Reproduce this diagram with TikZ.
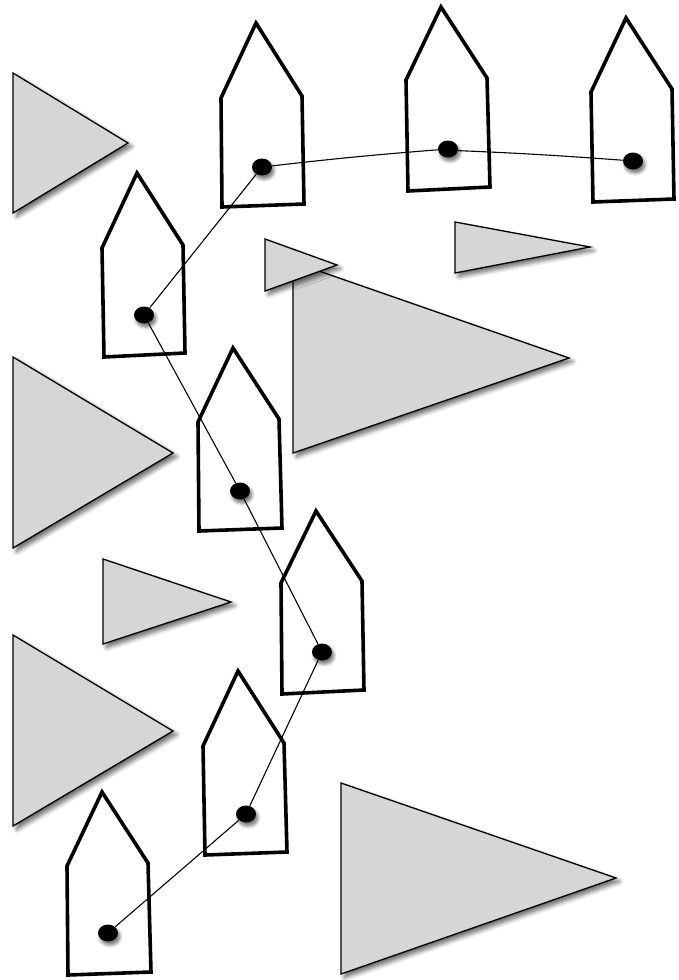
\documentclass[tikz,border=0pt]{standalone}
\usetikzlibrary{shapes.geometric,shadows.blur}
\definecolor{trigray}{HTML}{D6D6D6}
\tikzset{
  tri/.style={draw=black, line width=0.65pt, fill=trigray, line join=miter,
    blur shadow={shadow xshift=1.8pt, shadow yshift=-1.8pt, shadow blur steps=6, shadow blur radius=2.2pt, shadow opacity=60}},
  house/.style={draw=black, line width=1.8pt, line join=miter},
  dotnode/.style={ellipse, fill=black, draw=none, minimum width=10pt, minimum height=8.5pt, inner sep=0pt,
    blur shadow={shadow xshift=1pt, shadow yshift=-1.8pt, shadow blur steps=5, shadow blur radius=1.6pt, shadow opacity=55}},
  link/.style={draw=black, line width=0.55pt}
}
\begin{document}
\begin{tikzpicture}[x=0.5pt, y=-0.5pt]
\useasboundingbox (0,0) rectangle (679,980);
% triangles
\path[tri] (13,73) -- (13,213) -- (128,143) -- cycle;
\path[tri] (13,357) -- (13,548) -- (173,453) -- cycle;
\path[tri] (103,559) -- (103,644) -- (231,602) -- cycle;
\path[tri] (13,635) -- (13,826) -- (173,731) -- cycle;
\path[tri] (341,783) -- (341,974) -- (616,878) -- cycle;
\path[tri] (293,262) -- (293,453) -- (569,358) -- cycle;
\path[tri] (265,239) -- (265,291) -- (337,265) -- cycle;
\path[tri] (455,222) -- (455,273) -- (590,247) -- cycle;
% houses
\draw[house] (222,207) -- (304,204) -- (302,96) -- (256,23) -- (221,98) -- cycle;
\draw[house] (104,357) -- (185,353) -- (183,245) -- (137,173) -- (102,248) -- cycle;
\draw[house] (408,191) -- (490,187) -- (487,78) -- (441,7) -- (406,80) -- cycle;
\draw[house] (593,202) -- (674,199) -- (672,89) -- (626,18) -- (591,92) -- cycle;
\draw[house] (199,531) -- (282,528) -- (279,419) -- (233,348) -- (198,422) -- cycle;
\draw[house] (282,694) -- (364,690) -- (362,581) -- (316,511) -- (281,583) -- cycle;
\draw[house] (205,855) -- (287,852) -- (284,743) -- (238,671) -- (203,746) -- cycle;
\draw[house] (68,975) -- (151,972) -- (148,863) -- (102,792) -- (67,866) -- cycle;
% dots
\node[dotnode] (d1) at (262,167) {};
\node[dotnode] (d2) at (144,315) {};
\node[dotnode] (d3) at (448,149) {};
\node[dotnode] (d4) at (633,161) {};
\node[dotnode] (d5) at (240,491) {};
\node[dotnode] (d6) at (322,652) {};
\node[dotnode] (d7) at (246,814) {};
\node[dotnode] (d8) at (108,933) {};
% connectors
\draw[link] (d1) to[bend left=1] (d3) to[bend left=1] (d4);
\draw[link] (d1) -- (d2);
\draw[link] (d2) -- (d5);
\draw[link] (d5) -- (d6);
\draw[link] (d6) -- (d7);
\draw[link] (d7) -- (d8);
\end{tikzpicture}
\end{document}
